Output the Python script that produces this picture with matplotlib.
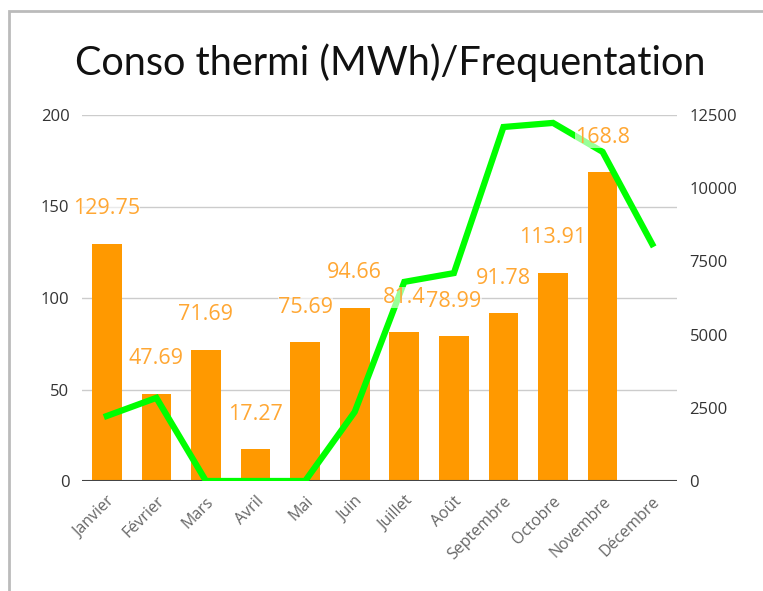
import matplotlib
matplotlib.use("Agg")
import matplotlib.pyplot as plt
from matplotlib.patches import Rectangle

# data
mois = ["Janvier", "Février", "Mars", "Avril", "Mai", "Juin", "Juillet",
        "Août", "Septembre", "Octobre", "Novembre", "Décembre"]
conso = [129.75, 47.69, 71.69, 17.27, 75.69, 94.66, 81.4, 78.99, 91.78,
         113.91, 168.8, None]
frequentation = [2220, 2840, 0, 0, 0, 2360, 6800, 7100, 12090, 12230,
                 11240, 8090]

plt.rcParams["font.family"] = ["Open Sans", "DejaVu Sans"]

fig = plt.figure(figsize=(7.63, 5.91), dpi=100)
ax = fig.add_axes([82 / 763, 1 - 481 / 591, 595 / 763, 366 / 591])
ax2 = ax.twinx()

x = list(range(len(mois)))
bar_x = [i for i, v in zip(x, conso) if v is not None]
bar_h = [v for v in conso if v is not None]
ax.bar(bar_x, bar_h, width=0.6, color="#ff9900", zorder=2)

ax2.plot(x, frequentation, color="#00ff00", lw=4.5, solid_joinstyle="miter",
         zorder=3)

ax.set_xlim(-0.5, len(mois) - 0.5)
ax.set_ylim(0, 200)
ax2.set_ylim(0, 12500)
ax.set_yticks([0, 50, 100, 150, 200])
ax2.set_yticks([0, 2500, 5000, 7500, 10000, 12500])

ax.set_xticks(x)
ax.set_xticklabels(mois, rotation=45, ha="right", va="top",
                   rotation_mode="anchor", color="#666666", fontsize=11.5)
ax.tick_params(axis="x", length=0, pad=9)
ax.tick_params(axis="y", length=0, pad=9, labelsize=12, labelcolor="#333333")
ax2.tick_params(axis="y", length=0, pad=9, labelsize=12, labelcolor="#333333")

ax.yaxis.grid(True, color="#cccccc", lw=1, zorder=0)
ax.set_axisbelow(True)
for a in (ax, ax2):
    for s in a.spines.values():
        s.set_visible(False)
ax.axhline(0, color="#444444", lw=1.5, zorder=4)

# value labels, drawn on top of the line
for xi, v in zip(bar_x, bar_h):
    ax2.annotate(f"{v:g}", xy=(xi, v / 200 * 12500), xytext=(0, 35),
                 textcoords="offset pixels", ha="center", va="center",
                 fontsize=15.5, color="#ffa733", zorder=5,
                 bbox=dict(boxstyle="square,pad=0", fc="white", ec="none",
                           alpha=0.6))

fig.suptitle("Conso thermi (MWh)/Frequentation", x=390 / 763, y=1 - 63 / 591,
             va="center", fontsize=28.5, color="#111111",
             family=["Lato", "DejaVu Sans"])

# chart frame, partly cut off in the reference
fig.add_artist(Rectangle((8.5 / 763, -0.1), 1.2, 1 - 11 / 591 + 0.1,
                         transform=fig.transFigure, fill=False,
                         ec="#bbbbbb", lw=2))

fig.savefig("out.png", dpi=100)
